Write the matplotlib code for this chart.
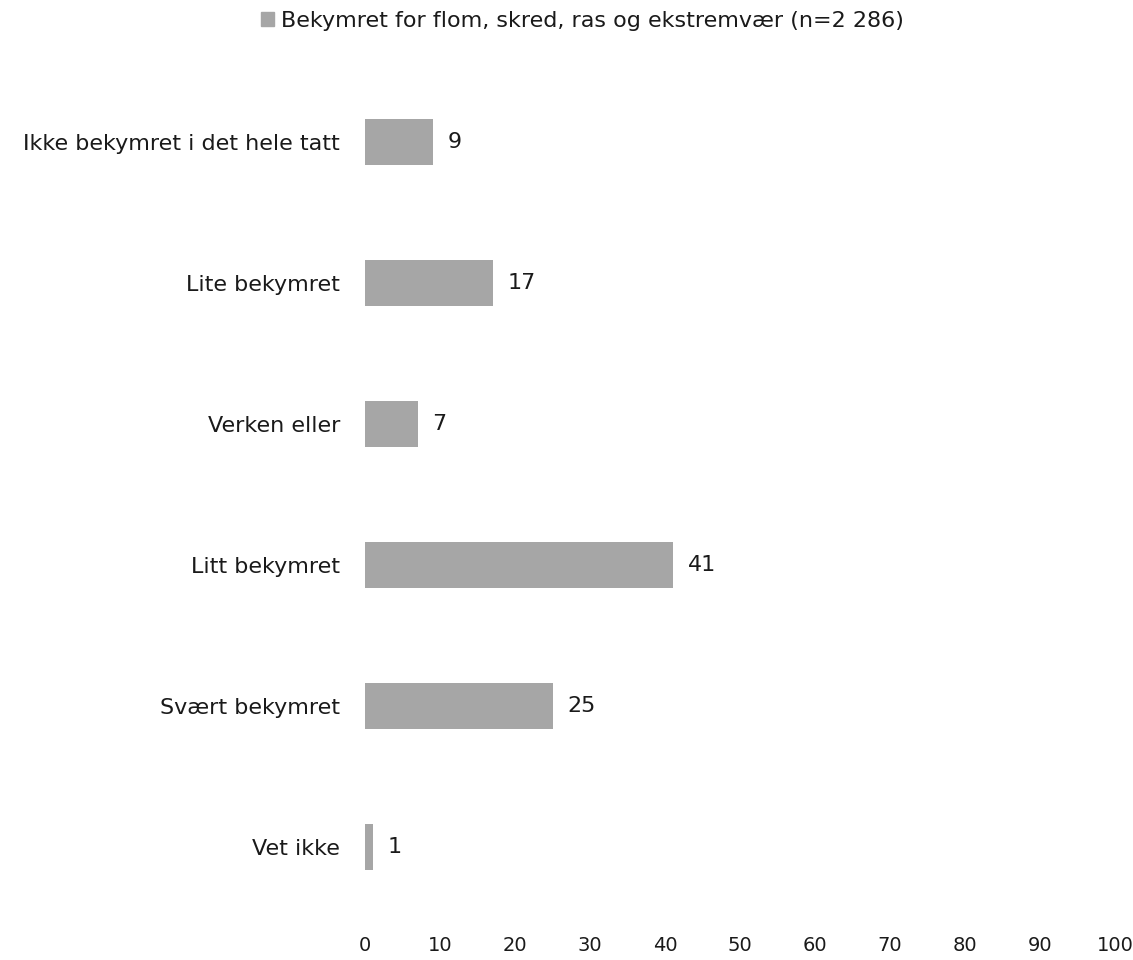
import matplotlib
matplotlib.use("Agg")
import matplotlib.pyplot as plt
from matplotlib.patches import Patch

# --- Data ---
CATEGORIES = ["Ikke bekymret i det hele tatt", "Lite bekymret", "Verken eller",
              "Litt bekymret", "Svært bekymret", "Vet ikke"]
VALUES = [9, 17, 7, 41, 25, 1]
SERIES_NAME = "Bekymret for flom, skred, ras og ekstremvær (n=2 286)"
X_TICKS = [0, 10, 20, 30, 40, 50, 60, 70, 80, 90, 100]
# ------------

BAR_COLOR = "#A6A6A6"
TEXT_COLOR = "#1a1a1a"
FONT_SIZE = 16

plt.rcParams['font.family'] = ['DejaVu Sans']

fig = plt.figure(figsize=(11.33, 9.6), dpi=100)
ax = fig.add_axes([0.3222, 0.0443, 0.662, 0.8812])

ypos = list(range(len(CATEGORIES)))
ax.barh(ypos, VALUES, height=0.33, color=BAR_COLOR)

for y, v in zip(ypos, VALUES):
    ax.text(v + 2, y, str(v), va="center", ha="left",
            fontsize=FONT_SIZE, color=TEXT_COLOR)

ax.set_xlim(0, 100)
ax.set_ylim(len(CATEGORIES) - 0.5, -0.5)
ax.set_yticks(ypos)
ax.set_yticklabels(CATEGORIES)
ax.set_xticks(X_TICKS)

ax.tick_params(axis="both", length=0, labelsize=FONT_SIZE, colors=TEXT_COLOR)
ax.tick_params(axis="y", pad=18)
ax.tick_params(axis="x", pad=13, labelsize=14)
for s in ax.spines.values():
    s.set_visible(False)

fig.legend(handles=[Patch(color=BAR_COLOR, label=SERIES_NAME)],
           loc="center", bbox_to_anchor=(0.514, 0.978), frameon=False,
           fontsize=FONT_SIZE, handlelength=0.6, handleheight=0.6,
           handletextpad=0.3, labelcolor=TEXT_COLOR)

fig.savefig("out.png", dpi=100)
